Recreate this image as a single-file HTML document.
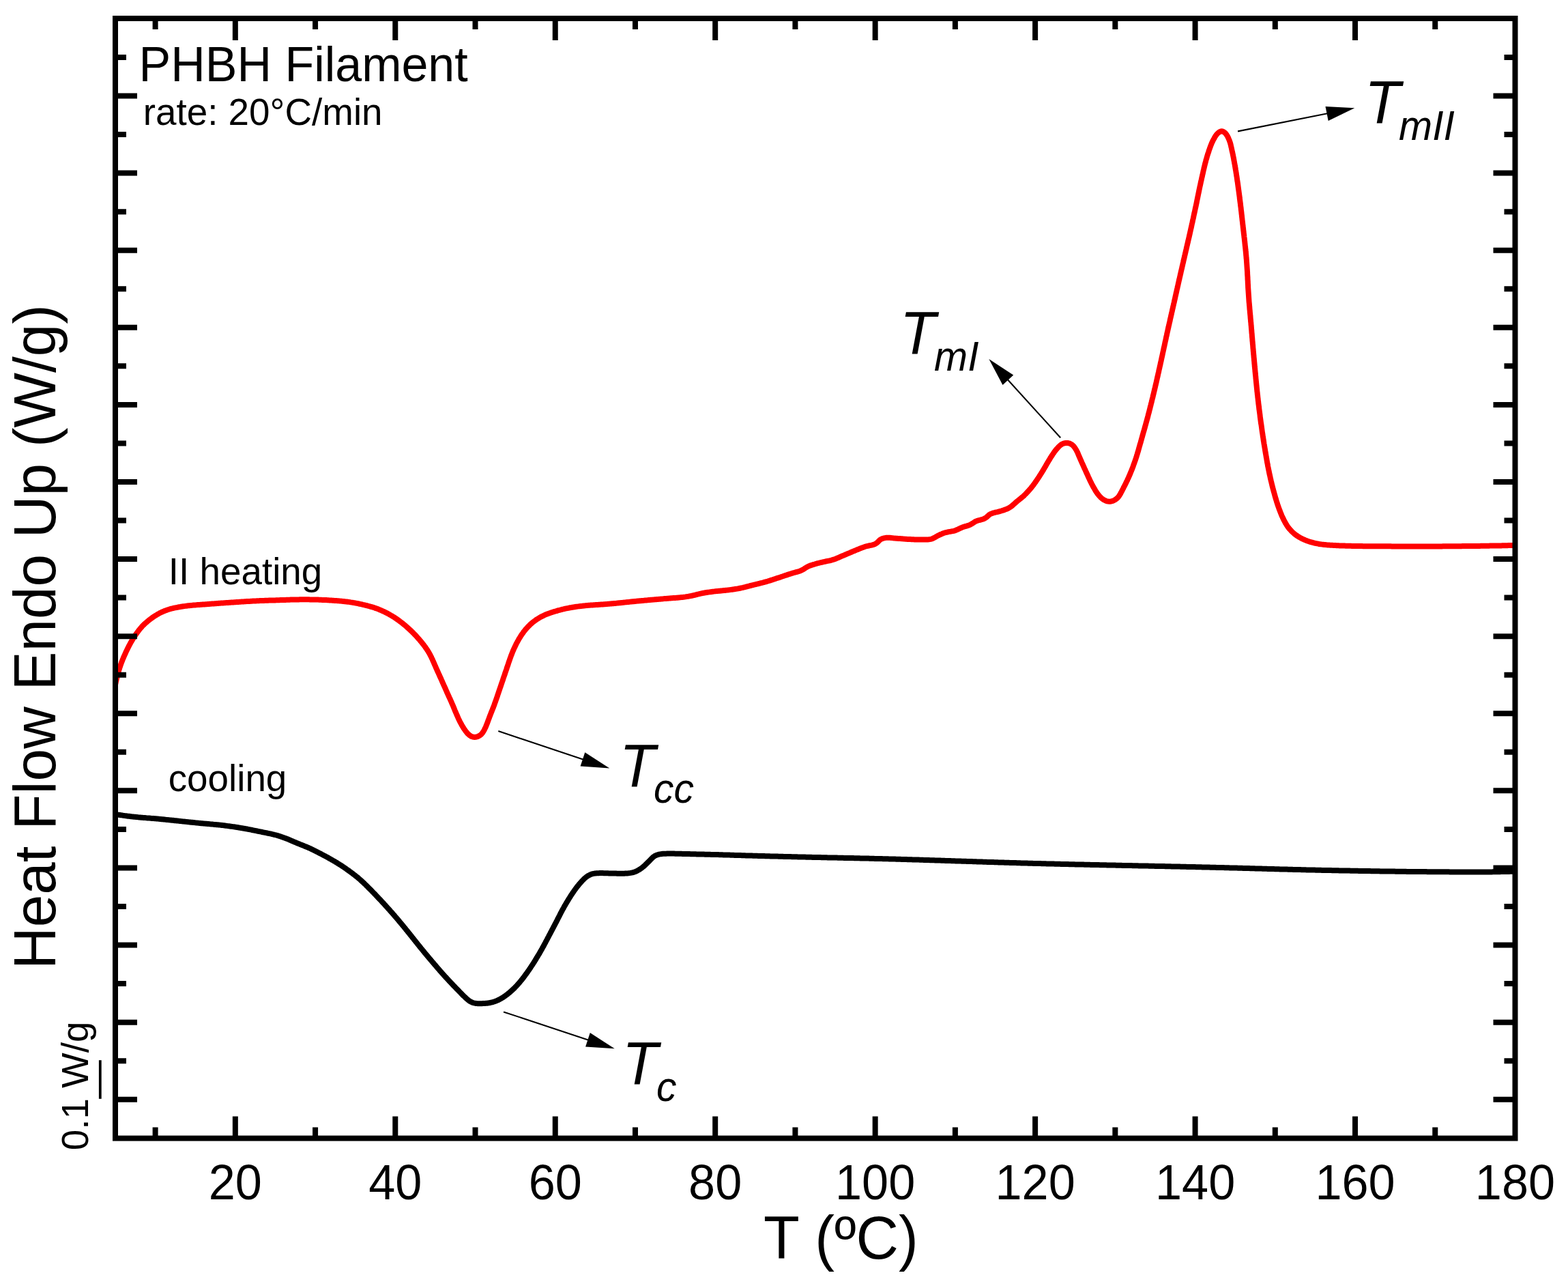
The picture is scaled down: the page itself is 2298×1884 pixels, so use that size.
<!DOCTYPE html>
<html lang="en"><head><meta charset="utf-8"><title>PHBH Filament DSC</title>
<style>html,body{margin:0;padding:0;background:#fff;overflow:hidden}svg{display:block}text{font-family:"Liberation Sans",sans-serif;fill:#000}.it{font-style:italic}</style>
</head><body>
<svg width="2298" height="1884" viewBox="0 0 2298 1884">
<rect width="2298" height="1884" fill="#fff"/>
<defs><clipPath id="plot"><rect x="169.0" y="27.0" width="2051.5" height="1640.6"/></clipPath></defs>
<g clip-path="url(#plot)" fill="none" stroke-width="8" stroke-linejoin="round" stroke-linecap="butt">
<path d="M164.0 1192.2L165.5 1192.4L167.0 1192.7L168.4 1192.9L169.9 1193.1L171.4 1193.3L172.9 1193.6L174.4 1193.8L175.9 1194.0L177.3 1194.2L178.8 1194.4L180.3 1194.7L181.8 1194.9L183.3 1195.1L184.8 1195.3L186.3 1195.5L187.7 1195.7L189.2 1195.8L190.7 1196.0L192.2 1196.2L193.7 1196.4L195.2 1196.5L196.7 1196.7L198.2 1196.8L199.7 1197.0L201.2 1197.1L202.7 1197.3L204.2 1197.4L205.6 1197.5L207.1 1197.7L208.6 1197.8L210.1 1197.9L211.6 1198.0L213.1 1198.1L214.6 1198.3L216.1 1198.4L217.6 1198.5L219.1 1198.6L220.6 1198.7L222.1 1198.9L223.6 1199.0L225.1 1199.1L226.6 1199.2L228.1 1199.3L229.6 1199.5L231.1 1199.6L232.6 1199.7L234.0 1199.9L235.5 1200.0L237.0 1200.2L238.5 1200.3L240.0 1200.5L241.5 1200.6L243.0 1200.8L244.5 1200.9L246.0 1201.1L247.5 1201.2L249.0 1201.4L250.5 1201.5L252.0 1201.7L253.5 1201.8L254.9 1202.0L256.4 1202.2L257.9 1202.3L259.4 1202.5L260.9 1202.6L262.4 1202.8L263.9 1202.9L265.4 1203.1L266.9 1203.3L268.4 1203.4L269.9 1203.6L271.3 1203.7L272.8 1203.9L274.3 1204.1L275.8 1204.2L277.3 1204.4L278.8 1204.5L280.3 1204.7L281.8 1204.8L283.3 1205.0L284.8 1205.1L286.3 1205.3L287.8 1205.4L289.3 1205.6L290.7 1205.7L292.2 1205.9L293.7 1206.0L295.2 1206.2L296.7 1206.3L298.2 1206.4L299.7 1206.6L301.2 1206.7L302.7 1206.8L304.2 1207.0L305.7 1207.1L307.2 1207.2L308.7 1207.4L310.2 1207.5L311.7 1207.6L313.2 1207.8L314.6 1207.9L316.1 1208.0L317.6 1208.2L319.1 1208.3L320.6 1208.5L322.1 1208.6L323.6 1208.8L325.1 1209.0L326.6 1209.1L328.1 1209.3L329.6 1209.5L331.1 1209.7L332.5 1209.9L334.0 1210.1L335.5 1210.3L337.0 1210.5L338.5 1210.7L340.0 1210.9L341.5 1211.1L342.9 1211.3L344.4 1211.5L345.9 1211.8L347.4 1212.0L348.9 1212.2L350.3 1212.5L351.8 1212.7L353.3 1213.0L354.8 1213.2L356.3 1213.5L357.7 1213.7L359.2 1214.0L360.7 1214.3L362.2 1214.5L363.6 1214.8L365.1 1215.1L366.6 1215.4L368.1 1215.7L369.5 1216.0L371.0 1216.3L372.5 1216.6L373.9 1216.9L375.4 1217.2L376.9 1217.5L378.3 1217.8L379.8 1218.1L381.3 1218.4L382.8 1218.7L384.2 1219.0L385.7 1219.3L387.2 1219.6L388.6 1219.9L390.1 1220.2L391.6 1220.5L393.0 1220.8L394.5 1221.1L396.0 1221.4L397.4 1221.7L398.9 1222.1L400.4 1222.4L401.8 1222.8L403.3 1223.1L404.7 1223.5L406.2 1223.9L407.6 1224.3L409.0 1224.8L410.5 1225.2L411.9 1225.7L413.3 1226.2L414.7 1226.7L416.1 1227.2L417.5 1227.7L418.9 1228.2L420.3 1228.8L421.7 1229.3L423.1 1229.9L424.5 1230.5L425.9 1231.1L427.2 1231.7L428.6 1232.3L430.0 1232.9L431.4 1233.5L432.8 1234.1L434.1 1234.6L435.5 1235.2L436.9 1235.8L438.3 1236.3L439.7 1236.9L441.1 1237.4L442.5 1238.0L443.9 1238.6L445.3 1239.1L446.7 1239.7L448.0 1240.2L449.4 1240.8L450.8 1241.4L452.2 1242.0L453.6 1242.6L454.9 1243.2L456.3 1243.9L457.6 1244.5L459.0 1245.2L460.3 1245.8L461.7 1246.5L463.0 1247.2L464.3 1247.8L465.7 1248.5L467.0 1249.2L468.3 1249.9L469.7 1250.6L471.0 1251.3L472.3 1252.0L473.7 1252.7L475.0 1253.4L476.3 1254.1L477.6 1254.8L478.9 1255.5L480.3 1256.2L481.6 1257.0L482.9 1257.7L484.2 1258.4L485.5 1259.2L486.8 1259.9L488.1 1260.7L489.4 1261.4L490.7 1262.2L492.0 1263.0L493.3 1263.7L494.5 1264.5L495.8 1265.3L497.1 1266.1L498.3 1266.9L499.6 1267.7L500.9 1268.5L502.1 1269.4L503.4 1270.2L504.6 1271.0L505.8 1271.9L507.1 1272.7L508.3 1273.6L509.5 1274.5L510.8 1275.3L512.0 1276.2L513.2 1277.1L514.4 1278.0L515.6 1278.9L516.8 1279.8L518.0 1280.7L519.2 1281.6L520.4 1282.5L521.5 1283.5L522.7 1284.4L523.9 1285.3L525.0 1286.3L526.1 1287.3L527.3 1288.3L528.4 1289.2L529.5 1290.2L530.6 1291.3L531.7 1292.3L532.8 1293.3L533.9 1294.3L535.0 1295.4L536.1 1296.4L537.1 1297.5L538.2 1298.5L539.3 1299.6L540.3 1300.7L541.4 1301.7L542.4 1302.8L543.5 1303.8L544.5 1304.9L545.6 1306.0L546.6 1307.1L547.7 1308.1L548.7 1309.2L549.8 1310.3L550.8 1311.4L551.8 1312.5L552.9 1313.6L553.9 1314.7L554.9 1315.8L555.9 1316.8L557.0 1317.9L558.0 1319.0L559.0 1320.1L560.0 1321.2L561.0 1322.3L562.1 1323.4L563.1 1324.5L564.1 1325.7L565.1 1326.8L566.1 1327.9L567.1 1329.0L568.1 1330.1L569.1 1331.2L570.1 1332.3L571.1 1333.4L572.1 1334.6L573.1 1335.7L574.1 1336.8L575.1 1337.9L576.1 1339.1L577.1 1340.2L578.1 1341.3L579.0 1342.5L580.0 1343.6L581.0 1344.7L582.0 1345.9L582.9 1347.0L583.9 1348.2L584.9 1349.3L585.8 1350.5L586.8 1351.6L587.7 1352.8L588.7 1353.9L589.6 1355.1L590.6 1356.3L591.6 1357.4L592.5 1358.6L593.5 1359.7L594.4 1360.9L595.3 1362.1L596.3 1363.2L597.2 1364.4L598.2 1365.6L599.1 1366.7L600.1 1367.9L601.0 1369.1L601.9 1370.2L602.9 1371.4L603.8 1372.6L604.7 1373.8L605.7 1374.9L606.6 1376.1L607.5 1377.3L608.5 1378.5L609.4 1379.6L610.3 1380.8L611.3 1382.0L612.2 1383.2L613.1 1384.3L614.1 1385.5L615.0 1386.7L616.0 1387.8L616.9 1389.0L617.9 1390.2L618.8 1391.3L619.8 1392.5L620.7 1393.6L621.7 1394.8L622.6 1396.0L623.6 1397.1L624.5 1398.3L625.5 1399.4L626.5 1400.6L627.4 1401.7L628.4 1402.9L629.3 1404.0L630.3 1405.2L631.3 1406.3L632.3 1407.5L633.2 1408.6L634.2 1409.7L635.2 1410.9L636.1 1412.0L637.1 1413.2L638.1 1414.3L639.1 1415.4L640.0 1416.6L641.0 1417.7L642.0 1418.9L643.0 1420.0L644.0 1421.1L644.9 1422.3L645.9 1423.4L646.9 1424.5L647.9 1425.6L648.9 1426.8L649.9 1427.9L650.9 1429.0L651.9 1430.1L652.9 1431.2L653.9 1432.3L654.9 1433.4L656.0 1434.5L657.0 1435.6L658.0 1436.7L659.0 1437.8L660.1 1438.9L661.1 1440.0L662.1 1441.1L663.2 1442.2L664.2 1443.3L665.2 1444.3L666.3 1445.4L667.3 1446.5L668.4 1447.6L669.4 1448.7L670.5 1449.7L671.5 1450.8L672.5 1451.9L673.6 1453.0L674.6 1454.0L675.7 1455.1L676.7 1456.2L677.8 1457.3L678.8 1458.3L679.9 1459.4L681.0 1460.4L682.1 1461.5L683.2 1462.5L684.3 1463.5L685.4 1464.4L686.6 1465.4L687.8 1466.3L689.0 1467.1L690.3 1467.8L691.7 1468.4L693.0 1469.0L694.5 1469.4L695.9 1469.7L697.4 1470.0L698.9 1470.1L700.4 1470.3L701.9 1470.3L703.4 1470.3L704.9 1470.3L706.3 1470.2L707.8 1470.1L709.3 1470.0L710.8 1469.9L712.3 1469.8L713.8 1469.7L715.3 1469.5L716.8 1469.3L718.3 1469.0L719.7 1468.7L721.2 1468.4L722.6 1467.9L724.1 1467.5L725.5 1467.0L726.9 1466.5L728.3 1465.9L729.6 1465.3L731.0 1464.7L732.3 1464.0L733.6 1463.3L734.9 1462.5L736.2 1461.8L737.5 1461.0L738.7 1460.2L740.0 1459.3L741.2 1458.4L742.4 1457.5L743.6 1456.6L744.7 1455.7L745.9 1454.7L747.1 1453.8L748.2 1452.8L749.3 1451.8L750.4 1450.8L751.5 1449.8L752.6 1448.7L753.7 1447.7L754.7 1446.6L755.8 1445.5L756.8 1444.5L757.8 1443.4L758.8 1442.2L759.8 1441.1L760.8 1440.0L761.8 1438.9L762.7 1437.7L763.7 1436.5L764.6 1435.4L765.6 1434.2L766.5 1433.0L767.4 1431.8L768.3 1430.6L769.2 1429.4L770.1 1428.2L771.0 1427.0L771.8 1425.8L772.7 1424.6L773.6 1423.3L774.4 1422.1L775.3 1420.9L776.1 1419.6L777.0 1418.4L777.8 1417.1L778.6 1415.9L779.4 1414.6L780.3 1413.4L781.1 1412.1L781.9 1410.9L782.7 1409.6L783.5 1408.3L784.3 1407.0L785.1 1405.8L785.8 1404.5L786.6 1403.2L787.4 1401.9L788.2 1400.6L788.9 1399.3L789.7 1398.1L790.5 1396.8L791.2 1395.5L792.0 1394.2L792.7 1392.9L793.4 1391.6L794.2 1390.3L794.9 1388.9L795.6 1387.6L796.4 1386.3L797.1 1385.0L797.8 1383.7L798.5 1382.4L799.2 1381.1L799.9 1379.7L800.6 1378.4L801.3 1377.1L802.0 1375.8L802.7 1374.4L803.4 1373.1L804.1 1371.8L804.8 1370.4L805.5 1369.1L806.2 1367.8L806.9 1366.5L807.6 1365.1L808.3 1363.8L809.0 1362.5L809.7 1361.1L810.4 1359.8L811.1 1358.5L811.8 1357.2L812.5 1355.8L813.2 1354.5L813.9 1353.2L814.6 1351.8L815.3 1350.5L816.0 1349.2L816.7 1347.8L817.3 1346.5L818.0 1345.2L818.7 1343.8L819.4 1342.5L820.1 1341.2L820.7 1339.8L821.4 1338.5L822.1 1337.2L822.8 1335.8L823.5 1334.5L824.2 1333.2L824.9 1331.9L825.7 1330.6L826.4 1329.2L827.1 1327.9L827.9 1326.6L828.6 1325.3L829.4 1324.0L830.1 1322.7L830.9 1321.5L831.7 1320.2L832.5 1318.9L833.2 1317.6L834.0 1316.3L834.8 1315.1L835.6 1313.8L836.4 1312.5L837.2 1311.3L838.1 1310.0L838.9 1308.8L839.7 1307.5L840.6 1306.3L841.4 1305.1L842.3 1303.8L843.2 1302.6L844.1 1301.4L845.0 1300.2L845.9 1299.0L846.8 1297.9L847.8 1296.7L848.7 1295.5L849.7 1294.4L850.7 1293.2L851.7 1292.1L852.7 1291.0L853.7 1289.9L854.8 1288.9L855.8 1287.8L856.9 1286.8L858.1 1285.8L859.2 1284.9L860.4 1284.0L861.7 1283.1L863.0 1282.4L864.3 1281.7L865.7 1281.1L867.1 1280.6L868.5 1280.2L870.0 1279.9L871.4 1279.6L872.9 1279.5L874.4 1279.3L875.9 1279.2L877.4 1279.2L878.9 1279.1L880.4 1279.1L881.9 1279.1L883.4 1279.1L884.9 1279.2L886.4 1279.2L887.9 1279.3L889.4 1279.3L890.9 1279.3L892.4 1279.4L893.9 1279.4L895.4 1279.4L896.9 1279.5L898.4 1279.5L899.9 1279.6L901.4 1279.6L902.9 1279.6L904.4 1279.7L905.9 1279.7L907.4 1279.7L908.9 1279.7L910.4 1279.7L911.9 1279.7L913.4 1279.7L914.9 1279.7L916.4 1279.6L917.9 1279.6L919.4 1279.4L920.9 1279.3L922.4 1279.1L923.9 1278.9L925.3 1278.6L926.8 1278.3L928.3 1278.0L929.7 1277.5L931.1 1277.0L932.5 1276.4L933.8 1275.7L935.1 1275.0L936.4 1274.3L937.7 1273.5L938.9 1272.6L940.2 1271.8L941.4 1270.9L942.5 1269.9L943.7 1269.0L944.8 1268.0L945.9 1266.9L946.9 1265.9L948.0 1264.8L949.1 1263.8L950.1 1262.7L951.2 1261.7L952.3 1260.6L953.3 1259.5L954.4 1258.4L955.4 1257.4L956.5 1256.3L957.6 1255.3L958.8 1254.5L960.1 1253.7L961.4 1253.1L962.8 1252.5L964.3 1252.1L965.7 1251.7L967.2 1251.4L968.6 1251.2L970.1 1251.0L971.6 1250.8L973.1 1250.7L974.6 1250.7L976.1 1250.7L977.6 1250.6L979.1 1250.6L980.6 1250.6L982.1 1250.6L983.6 1250.6L985.1 1250.6L986.6 1250.6L988.1 1250.6L989.6 1250.7L991.1 1250.7L992.6 1250.7L994.1 1250.7L995.6 1250.8L997.1 1250.8L998.6 1250.8L1000.1 1250.9L1001.6 1250.9L1003.1 1251.0L1004.6 1251.0L1006.1 1251.0L1007.6 1251.1L1009.1 1251.1L1010.6 1251.1L1012.1 1251.2L1013.6 1251.2L1015.1 1251.2L1016.6 1251.3L1018.1 1251.3L1019.6 1251.3L1021.1 1251.4L1022.6 1251.4L1024.1 1251.4L1025.6 1251.5L1027.1 1251.5L1028.6 1251.5L1030.1 1251.6L1031.6 1251.6L1033.1 1251.7L1034.6 1251.7L1036.1 1251.7L1037.6 1251.8L1039.1 1251.8L1040.6 1251.8L1042.1 1251.9L1043.6 1251.9L1045.1 1251.9L1046.6 1252.0L1048.1 1252.0L1049.6 1252.1L1051.1 1252.1L1052.6 1252.1L1054.1 1252.2L1055.6 1252.2L1057.1 1252.3L1058.6 1252.3L1060.1 1252.4L1061.6 1252.4L1063.1 1252.4L1064.6 1252.5L1066.1 1252.5L1067.6 1252.6L1069.1 1252.6L1070.6 1252.7L1072.1 1252.7L1073.6 1252.8L1075.1 1252.8L1076.6 1252.9L1078.1 1252.9L1079.6 1252.9L1081.1 1253.0L1082.6 1253.0L1084.1 1253.1L1085.6 1253.1L1087.1 1253.2L1088.6 1253.2L1090.1 1253.3L1091.6 1253.3L1093.1 1253.4L1094.6 1253.4L1096.1 1253.5L1097.6 1253.5L1099.1 1253.5L1100.6 1253.6L1102.1 1253.6L1103.6 1253.7L1105.1 1253.7L1106.6 1253.8L1108.1 1253.8L1109.6 1253.8L1111.1 1253.9L1112.6 1253.9L1114.1 1254.0L1115.6 1254.0L1117.1 1254.1L1118.6 1254.1L1120.1 1254.1L1121.6 1254.2L1123.1 1254.2L1124.6 1254.3L1126.1 1254.3L1127.6 1254.3L1129.1 1254.4L1130.6 1254.4L1132.1 1254.5L1133.6 1254.5L1135.1 1254.5L1136.6 1254.6L1138.1 1254.6L1139.6 1254.6L1141.1 1254.7L1142.6 1254.7L1144.1 1254.8L1145.6 1254.8L1147.1 1254.8L1148.6 1254.9L1150.1 1254.9L1151.6 1254.9L1153.1 1255.0L1154.6 1255.0L1156.0 1255.0L1157.5 1255.1L1159.0 1255.1L1160.5 1255.2L1162.0 1255.2L1163.5 1255.2L1165.0 1255.3L1166.5 1255.3L1168.0 1255.3L1169.5 1255.4L1171.0 1255.4L1172.5 1255.4L1174.0 1255.5L1175.5 1255.5L1177.0 1255.6L1178.5 1255.6L1180.0 1255.6L1181.5 1255.7L1183.0 1255.7L1184.5 1255.7L1186.0 1255.8L1187.5 1255.8L1189.0 1255.8L1190.5 1255.9L1192.0 1255.9L1193.5 1255.9L1195.0 1256.0L1196.5 1256.0L1198.0 1256.0L1199.5 1256.1L1201.0 1256.1L1202.5 1256.1L1204.0 1256.2L1205.5 1256.2L1207.0 1256.2L1208.5 1256.3L1210.0 1256.3L1211.5 1256.3L1213.0 1256.4L1214.5 1256.4L1216.0 1256.4L1217.5 1256.5L1219.0 1256.5L1220.5 1256.5L1222.0 1256.5L1223.5 1256.6L1225.0 1256.6L1226.5 1256.6L1228.0 1256.7L1229.5 1256.7L1231.0 1256.7L1232.5 1256.8L1234.0 1256.8L1235.5 1256.8L1237.0 1256.9L1238.5 1256.9L1240.0 1256.9L1241.5 1256.9L1243.0 1257.0L1244.5 1257.0L1246.0 1257.0L1247.5 1257.1L1249.0 1257.1L1250.5 1257.1L1252.0 1257.2L1253.5 1257.2L1255.0 1257.2L1256.5 1257.3L1258.0 1257.3L1259.5 1257.3L1261.0 1257.4L1262.5 1257.4L1264.0 1257.4L1265.5 1257.5L1267.0 1257.5L1268.5 1257.5L1270.0 1257.6L1271.5 1257.6L1273.0 1257.6L1274.5 1257.7L1276.0 1257.7L1277.5 1257.7L1279.0 1257.8L1280.5 1257.8L1282.0 1257.9L1283.5 1257.9L1285.0 1257.9L1286.5 1258.0L1288.0 1258.0L1289.5 1258.0L1291.0 1258.1L1292.5 1258.1L1294.0 1258.2L1295.5 1258.2L1297.0 1258.2L1298.5 1258.3L1300.0 1258.3L1301.5 1258.3L1303.0 1258.4L1304.5 1258.4L1306.0 1258.5L1307.5 1258.5L1309.0 1258.6L1310.5 1258.6L1312.0 1258.6L1313.5 1258.7L1315.0 1258.7L1316.5 1258.8L1318.0 1258.8L1319.5 1258.8L1321.0 1258.9L1322.5 1258.9L1324.0 1259.0L1325.5 1259.0L1327.0 1259.1L1328.5 1259.1L1330.0 1259.2L1331.5 1259.2L1333.0 1259.2L1334.5 1259.3L1336.0 1259.3L1337.5 1259.4L1339.0 1259.4L1340.5 1259.5L1342.0 1259.5L1343.5 1259.6L1345.0 1259.6L1346.5 1259.6L1348.0 1259.7L1349.5 1259.7L1351.0 1259.8L1352.5 1259.8L1354.0 1259.9L1355.5 1259.9L1357.0 1260.0L1358.5 1260.0L1360.0 1260.1L1361.5 1260.1L1363.0 1260.2L1364.5 1260.2L1366.0 1260.3L1367.5 1260.3L1369.0 1260.3L1370.5 1260.4L1372.0 1260.4L1373.5 1260.5L1375.0 1260.5L1376.5 1260.6L1378.0 1260.6L1379.5 1260.7L1381.0 1260.7L1382.5 1260.8L1384.0 1260.8L1385.5 1260.9L1387.0 1260.9L1388.5 1261.0L1390.0 1261.0L1391.5 1261.1L1393.0 1261.1L1394.5 1261.2L1396.0 1261.2L1397.5 1261.3L1399.0 1261.3L1400.5 1261.4L1402.0 1261.4L1403.5 1261.5L1405.0 1261.5L1406.5 1261.6L1408.0 1261.6L1409.5 1261.7L1411.0 1261.7L1412.5 1261.8L1414.0 1261.8L1415.5 1261.8L1417.0 1261.9L1418.5 1261.9L1420.0 1262.0L1421.5 1262.0L1423.0 1262.1L1424.5 1262.1L1426.0 1262.2L1427.5 1262.2L1429.0 1262.3L1430.5 1262.3L1431.9 1262.4L1433.4 1262.4L1434.9 1262.5L1436.4 1262.5L1437.9 1262.6L1439.4 1262.6L1440.9 1262.7L1442.4 1262.7L1443.9 1262.8L1445.4 1262.8L1446.9 1262.9L1448.4 1262.9L1449.9 1263.0L1451.4 1263.0L1452.9 1263.0L1454.4 1263.1L1455.9 1263.1L1457.4 1263.2L1458.9 1263.2L1460.4 1263.3L1461.9 1263.3L1463.4 1263.4L1464.9 1263.4L1466.4 1263.5L1467.9 1263.5L1469.4 1263.6L1470.9 1263.6L1472.4 1263.7L1473.9 1263.7L1475.4 1263.7L1476.9 1263.8L1478.4 1263.8L1479.9 1263.9L1481.4 1263.9L1482.9 1264.0L1484.4 1264.0L1485.9 1264.1L1487.4 1264.1L1488.9 1264.1L1490.4 1264.2L1491.9 1264.2L1493.4 1264.3L1494.9 1264.3L1496.4 1264.4L1497.9 1264.4L1499.4 1264.4L1500.9 1264.5L1502.4 1264.5L1503.9 1264.6L1505.4 1264.6L1506.9 1264.7L1508.4 1264.7L1509.9 1264.7L1511.4 1264.8L1512.9 1264.8L1514.4 1264.9L1515.9 1264.9L1517.4 1264.9L1518.9 1265.0L1520.4 1265.0L1521.9 1265.1L1523.4 1265.1L1524.9 1265.1L1526.4 1265.2L1527.9 1265.2L1529.4 1265.2L1530.9 1265.3L1532.4 1265.3L1533.9 1265.4L1535.4 1265.4L1536.9 1265.4L1538.4 1265.5L1539.9 1265.5L1541.4 1265.5L1542.9 1265.6L1544.4 1265.6L1545.9 1265.7L1547.4 1265.7L1548.9 1265.7L1550.4 1265.8L1551.9 1265.8L1553.4 1265.8L1554.9 1265.9L1556.4 1265.9L1557.9 1265.9L1559.4 1266.0L1560.9 1266.0L1562.4 1266.0L1563.9 1266.1L1565.4 1266.1L1566.9 1266.2L1568.4 1266.2L1569.9 1266.2L1571.4 1266.3L1572.9 1266.3L1574.4 1266.3L1575.9 1266.4L1577.4 1266.4L1578.9 1266.4L1580.4 1266.5L1581.9 1266.5L1583.4 1266.5L1584.9 1266.6L1586.4 1266.6L1587.9 1266.6L1589.4 1266.7L1590.9 1266.7L1592.4 1266.7L1593.9 1266.8L1595.4 1266.8L1596.9 1266.8L1598.4 1266.9L1599.9 1266.9L1601.4 1266.9L1602.9 1267.0L1604.4 1267.0L1605.9 1267.0L1607.4 1267.1L1608.9 1267.1L1610.4 1267.1L1611.9 1267.2L1613.4 1267.2L1614.9 1267.2L1616.4 1267.3L1617.9 1267.3L1619.4 1267.3L1620.9 1267.3L1622.4 1267.4L1623.9 1267.4L1625.4 1267.4L1626.9 1267.5L1628.4 1267.5L1629.9 1267.5L1631.4 1267.6L1632.9 1267.6L1634.4 1267.6L1635.9 1267.7L1637.4 1267.7L1638.9 1267.7L1640.4 1267.8L1641.9 1267.8L1643.4 1267.8L1644.9 1267.9L1646.4 1267.9L1647.9 1267.9L1649.4 1267.9L1650.9 1268.0L1652.4 1268.0L1653.9 1268.0L1655.4 1268.1L1656.9 1268.1L1658.4 1268.1L1659.9 1268.2L1661.4 1268.2L1662.9 1268.2L1664.4 1268.3L1665.9 1268.3L1667.4 1268.3L1668.9 1268.4L1670.4 1268.4L1671.9 1268.4L1673.4 1268.4L1674.9 1268.5L1676.4 1268.5L1677.9 1268.5L1679.4 1268.6L1680.9 1268.6L1682.4 1268.6L1683.9 1268.7L1685.4 1268.7L1686.9 1268.7L1688.4 1268.8L1689.9 1268.8L1691.4 1268.8L1692.9 1268.9L1694.4 1268.9L1695.9 1268.9L1697.4 1269.0L1698.9 1269.0L1700.4 1269.0L1701.9 1269.0L1703.4 1269.1L1704.9 1269.1L1706.4 1269.1L1707.9 1269.2L1709.4 1269.2L1710.9 1269.2L1712.4 1269.3L1713.9 1269.3L1715.4 1269.3L1716.9 1269.4L1718.4 1269.4L1719.9 1269.4L1721.4 1269.5L1722.9 1269.5L1724.4 1269.5L1725.9 1269.6L1727.4 1269.6L1728.9 1269.6L1730.4 1269.7L1731.9 1269.7L1733.4 1269.7L1734.9 1269.8L1736.4 1269.8L1737.9 1269.8L1739.4 1269.9L1740.9 1269.9L1742.4 1269.9L1743.9 1270.0L1745.4 1270.0L1746.9 1270.0L1748.4 1270.1L1749.9 1270.1L1751.4 1270.1L1752.9 1270.2L1754.4 1270.2L1755.9 1270.2L1757.4 1270.3L1758.9 1270.3L1760.4 1270.3L1761.9 1270.4L1763.4 1270.4L1764.8 1270.4L1766.3 1270.5L1767.8 1270.5L1769.3 1270.5L1770.8 1270.6L1772.3 1270.6L1773.8 1270.7L1775.3 1270.7L1776.8 1270.7L1778.3 1270.8L1779.8 1270.8L1781.3 1270.8L1782.8 1270.9L1784.3 1270.9L1785.8 1270.9L1787.3 1271.0L1788.8 1271.0L1790.3 1271.1L1791.8 1271.1L1793.3 1271.1L1794.8 1271.2L1796.3 1271.2L1797.8 1271.2L1799.3 1271.3L1800.8 1271.3L1802.3 1271.4L1803.8 1271.4L1805.3 1271.4L1806.8 1271.5L1808.3 1271.5L1809.8 1271.6L1811.3 1271.6L1812.8 1271.6L1814.3 1271.7L1815.8 1271.7L1817.3 1271.8L1818.8 1271.8L1820.3 1271.8L1821.8 1271.9L1823.3 1271.9L1824.8 1272.0L1826.3 1272.0L1827.8 1272.0L1829.3 1272.1L1830.8 1272.1L1832.3 1272.2L1833.8 1272.2L1835.3 1272.3L1836.8 1272.3L1838.3 1272.3L1839.8 1272.4L1841.3 1272.4L1842.8 1272.5L1844.3 1272.5L1845.8 1272.5L1847.3 1272.6L1848.8 1272.6L1850.3 1272.7L1851.8 1272.7L1853.3 1272.8L1854.8 1272.8L1856.3 1272.8L1857.8 1272.9L1859.3 1272.9L1860.8 1273.0L1862.3 1273.0L1863.8 1273.0L1865.3 1273.1L1866.8 1273.1L1868.3 1273.2L1869.8 1273.2L1871.3 1273.2L1872.8 1273.3L1874.3 1273.3L1875.8 1273.4L1877.3 1273.4L1878.8 1273.4L1880.3 1273.5L1881.8 1273.5L1883.3 1273.6L1884.8 1273.6L1886.3 1273.6L1887.8 1273.7L1889.3 1273.7L1890.8 1273.8L1892.3 1273.8L1893.8 1273.8L1895.3 1273.9L1896.8 1273.9L1898.3 1274.0L1899.8 1274.0L1901.3 1274.0L1902.8 1274.1L1904.3 1274.1L1905.8 1274.1L1907.3 1274.2L1908.8 1274.2L1910.3 1274.3L1911.8 1274.3L1913.3 1274.3L1914.8 1274.4L1916.3 1274.4L1917.8 1274.4L1919.3 1274.5L1920.8 1274.5L1922.3 1274.5L1923.8 1274.6L1925.3 1274.6L1926.8 1274.6L1928.3 1274.7L1929.8 1274.7L1931.3 1274.7L1932.8 1274.8L1934.3 1274.8L1935.8 1274.8L1937.3 1274.9L1938.8 1274.9L1940.3 1274.9L1941.8 1275.0L1943.3 1275.0L1944.8 1275.0L1946.3 1275.0L1947.8 1275.1L1949.3 1275.1L1950.8 1275.1L1952.3 1275.2L1953.8 1275.2L1955.3 1275.2L1956.8 1275.2L1958.3 1275.3L1959.8 1275.3L1961.3 1275.3L1962.8 1275.4L1964.3 1275.4L1965.8 1275.4L1967.3 1275.4L1968.8 1275.5L1970.3 1275.5L1971.8 1275.5L1973.3 1275.6L1974.8 1275.6L1976.3 1275.6L1977.8 1275.6L1979.3 1275.7L1980.8 1275.7L1982.3 1275.7L1983.8 1275.7L1985.3 1275.8L1986.8 1275.8L1988.3 1275.8L1989.8 1275.8L1991.3 1275.9L1992.8 1275.9L1994.3 1275.9L1995.8 1275.9L1997.3 1276.0L1998.8 1276.0L2000.3 1276.0L2001.8 1276.0L2003.3 1276.1L2004.8 1276.1L2006.3 1276.1L2007.8 1276.1L2009.3 1276.2L2010.8 1276.2L2012.3 1276.2L2013.8 1276.2L2015.3 1276.3L2016.8 1276.3L2018.3 1276.3L2019.8 1276.3L2021.3 1276.3L2022.8 1276.4L2024.3 1276.4L2025.8 1276.4L2027.3 1276.4L2028.8 1276.4L2030.3 1276.5L2031.8 1276.5L2033.3 1276.5L2034.8 1276.5L2036.3 1276.6L2037.8 1276.6L2039.3 1276.6L2040.8 1276.6L2042.3 1276.6L2043.8 1276.6L2045.3 1276.7L2046.8 1276.7L2048.3 1276.7L2049.8 1276.7L2051.3 1276.7L2052.8 1276.8L2054.3 1276.8L2055.8 1276.8L2057.3 1276.8L2058.8 1276.8L2060.3 1276.8L2061.8 1276.9L2063.3 1276.9L2064.8 1276.9L2066.3 1276.9L2067.8 1276.9L2069.3 1276.9L2070.8 1277.0L2072.3 1277.0L2073.8 1277.0L2075.3 1277.0L2076.8 1277.0L2078.3 1277.0L2079.8 1277.0L2081.3 1277.1L2082.8 1277.1L2084.3 1277.1L2085.8 1277.1L2087.3 1277.1L2088.8 1277.1L2090.3 1277.1L2091.8 1277.2L2093.3 1277.2L2094.8 1277.2L2096.3 1277.2L2097.8 1277.2L2099.3 1277.2L2100.8 1277.2L2102.3 1277.2L2103.8 1277.2L2105.3 1277.3L2106.8 1277.3L2108.3 1277.3L2109.8 1277.3L2111.3 1277.3L2112.8 1277.3L2114.3 1277.3L2115.8 1277.3L2117.3 1277.3L2118.8 1277.3L2120.3 1277.3L2121.8 1277.3L2123.3 1277.3L2124.8 1277.4L2126.3 1277.4L2127.8 1277.4L2129.3 1277.4L2130.8 1277.4L2132.3 1277.4L2133.8 1277.4L2135.3 1277.4L2136.8 1277.4L2138.3 1277.4L2139.8 1277.4L2141.3 1277.4L2142.8 1277.4L2144.3 1277.4L2145.8 1277.4L2147.3 1277.4L2148.8 1277.4L2150.3 1277.4L2151.8 1277.5L2153.3 1277.5L2154.8 1277.5L2156.3 1277.5L2157.8 1277.5L2159.3 1277.5L2160.8 1277.5L2162.3 1277.5L2163.8 1277.5L2165.3 1277.5L2166.8 1277.5L2168.3 1277.5L2169.8 1277.5L2171.3 1277.5L2172.8 1277.5L2174.3 1277.5L2175.8 1277.5L2177.3 1277.5L2178.8 1277.4L2180.3 1277.4L2181.8 1277.4L2183.3 1277.4L2184.8 1277.4L2186.3 1277.4L2187.8 1277.3L2189.3 1277.3L2190.8 1277.3L2192.3 1277.3L2193.8 1277.2L2195.3 1277.2L2196.8 1277.2L2198.3 1277.2L2199.8 1277.1L2201.3 1277.1L2202.8 1277.1L2204.3 1277.0L2205.8 1277.0L2207.3 1277.0L2208.8 1276.9L2210.3 1276.9L2211.8 1276.9L2213.3 1276.8L2214.8 1276.8L2216.3 1276.7L2217.8 1276.7L2219.3 1276.7L2220.8 1276.6L2222.3 1276.6L2223.8 1276.6L2225.3 1276.5L2225.8 1276.5" stroke="#000"/>
<path d="M166.0 1016.0L166.3 1014.5L166.7 1013.1L167.0 1011.6L167.3 1010.2L167.7 1008.7L168.0 1007.2L168.4 1005.8L168.7 1004.3L169.0 1002.8L169.4 1001.4L169.7 999.9L170.0 998.5L170.4 997.0L170.7 995.5L171.0 994.1L171.4 992.6L171.7 991.2L172.1 989.7L172.5 988.2L172.9 986.8L173.3 985.4L173.7 983.9L174.1 982.5L174.5 981.0L175.0 979.6L175.4 978.2L175.9 976.8L176.4 975.3L176.9 973.9L177.4 972.5L177.9 971.1L178.4 969.7L179.0 968.3L179.5 966.9L180.1 965.5L180.7 964.1L181.3 962.7L181.8 961.4L182.5 960.0L183.1 958.6L183.7 957.3L184.3 955.9L184.9 954.5L185.6 953.2L186.2 951.8L186.9 950.5L187.6 949.1L188.2 947.8L188.9 946.5L189.6 945.1L190.3 943.8L191.0 942.5L191.8 941.2L192.5 939.9L193.3 938.6L194.0 937.3L194.8 936.0L195.6 934.8L196.4 933.5L197.2 932.2L198.1 931.0L198.9 929.7L199.8 928.5L200.6 927.3L201.5 926.1L202.4 924.9L203.3 923.7L204.2 922.5L205.2 921.3L206.1 920.2L207.1 919.1L208.1 917.9L209.1 916.8L210.2 915.8L211.3 914.7L212.3 913.7L213.4 912.7L214.6 911.7L215.7 910.7L216.9 909.7L218.0 908.8L219.2 907.9L220.4 907.0L221.6 906.1L222.8 905.2L224.0 904.3L225.3 903.5L226.5 902.7L227.8 901.9L229.1 901.1L230.4 900.3L231.7 899.6L233.0 898.8L234.3 898.1L235.6 897.4L237.0 896.8L238.3 896.2L239.7 895.6L241.1 895.0L242.5 894.4L243.9 893.9L245.3 893.4L246.7 893.0L248.2 892.5L249.6 892.1L251.0 891.7L252.5 891.4L253.9 891.0L255.4 890.7L256.9 890.4L258.3 890.1L259.8 889.8L261.3 889.5L262.8 889.2L264.2 889.0L265.7 888.7L267.2 888.5L268.7 888.3L270.2 888.1L271.6 887.9L273.1 887.7L274.6 887.5L276.1 887.3L277.6 887.2L279.1 887.0L280.6 886.9L282.1 886.7L283.6 886.6L285.1 886.5L286.6 886.4L288.1 886.2L289.6 886.1L291.1 886.0L292.5 885.9L294.0 885.8L295.5 885.7L297.0 885.6L298.5 885.5L300.0 885.4L301.5 885.3L303.0 885.2L304.5 885.1L306.0 885.0L307.5 884.8L309.0 884.7L310.5 884.6L312.0 884.5L313.5 884.4L315.0 884.3L316.5 884.2L318.0 884.1L319.5 884.0L321.0 883.8L322.5 883.7L324.0 883.6L325.5 883.5L327.0 883.4L328.5 883.3L330.0 883.2L331.4 883.1L332.9 883.0L334.4 882.9L335.9 882.8L337.4 882.7L338.9 882.6L340.4 882.5L341.9 882.4L343.4 882.3L344.9 882.2L346.4 882.1L347.9 882.0L349.4 881.9L350.9 881.8L352.4 881.7L353.9 881.6L355.4 881.5L356.9 881.4L358.4 881.3L359.9 881.2L361.4 881.1L362.9 881.0L364.4 880.9L365.9 880.9L367.4 880.8L368.9 880.7L370.4 880.6L371.9 880.5L373.4 880.5L374.9 880.4L376.4 880.3L377.9 880.3L379.4 880.2L380.9 880.1L382.4 880.1L383.9 880.0L385.4 880.0L386.9 879.9L388.3 879.8L389.8 879.8L391.3 879.7L392.8 879.7L394.3 879.6L395.8 879.6L397.3 879.5L398.8 879.5L400.3 879.4L401.8 879.4L403.3 879.4L404.8 879.3L406.3 879.3L407.8 879.2L409.3 879.2L410.8 879.1L412.3 879.1L413.8 879.0L415.3 879.0L416.8 878.9L418.3 878.9L419.8 878.8L421.3 878.8L422.8 878.7L424.3 878.7L425.8 878.6L427.3 878.6L428.8 878.6L430.3 878.5L431.8 878.5L433.3 878.4L434.8 878.4L436.3 878.4L437.8 878.4L439.3 878.3L440.8 878.3L442.3 878.3L443.8 878.3L445.3 878.3L446.8 878.3L448.3 878.3L449.8 878.3L451.3 878.3L452.8 878.3L454.3 878.4L455.8 878.4L457.3 878.4L458.8 878.4L460.3 878.5L461.8 878.5L463.3 878.5L464.8 878.6L466.3 878.6L467.8 878.7L469.3 878.7L470.8 878.8L472.3 878.9L473.8 878.9L475.3 879.0L476.8 879.1L478.3 879.1L479.8 879.2L481.3 879.3L482.8 879.4L484.3 879.5L485.8 879.6L487.3 879.7L488.8 879.8L490.3 879.9L491.8 880.0L493.3 880.1L494.8 880.2L496.3 880.3L497.8 880.4L499.3 880.6L500.8 880.7L502.2 880.9L503.7 881.0L505.2 881.2L506.7 881.4L508.2 881.5L509.7 881.7L511.2 881.9L512.7 882.1L514.1 882.4L515.6 882.6L517.1 882.8L518.6 883.1L520.1 883.3L521.5 883.6L523.0 883.9L524.5 884.2L526.0 884.5L527.4 884.8L528.9 885.1L530.3 885.4L531.8 885.8L533.3 886.1L534.7 886.5L536.2 886.8L537.6 887.2L539.1 887.6L540.5 888.0L542.0 888.4L543.4 888.8L544.9 889.2L546.3 889.6L547.7 890.1L549.1 890.6L550.6 891.1L552.0 891.6L553.4 892.1L554.8 892.6L556.2 893.2L557.5 893.8L558.9 894.3L560.3 895.0L561.7 895.6L563.0 896.2L564.4 896.9L565.7 897.5L567.0 898.2L568.4 898.9L569.7 899.6L571.0 900.4L572.3 901.1L573.6 901.9L574.9 902.6L576.1 903.4L577.4 904.2L578.7 905.0L579.9 905.9L581.1 906.7L582.4 907.6L583.6 908.4L584.8 909.3L586.0 910.2L587.2 911.1L588.4 912.0L589.6 912.9L590.8 913.9L591.9 914.8L593.1 915.8L594.2 916.7L595.4 917.7L596.5 918.7L597.6 919.7L598.7 920.7L599.8 921.7L600.9 922.7L602.0 923.8L603.1 924.8L604.2 925.9L605.2 926.9L606.3 928.0L607.3 929.1L608.4 930.2L609.4 931.2L610.4 932.3L611.4 933.5L612.4 934.6L613.4 935.7L614.4 936.8L615.4 938.0L616.3 939.1L617.3 940.3L618.2 941.4L619.2 942.6L620.1 943.8L621.0 944.9L621.9 946.1L622.8 947.3L623.7 948.6L624.5 949.8L625.4 951.0L626.2 952.3L627.0 953.5L627.8 954.8L628.6 956.1L629.3 957.4L630.0 958.7L630.7 960.0L631.4 961.4L632.1 962.7L632.7 964.1L633.4 965.4L634.0 966.8L634.6 968.2L635.2 969.5L635.8 970.9L636.4 972.3L637.0 973.7L637.6 975.0L638.2 976.4L638.8 977.8L639.4 979.2L640.0 980.5L640.6 981.9L641.2 983.3L641.8 984.6L642.5 986.0L643.1 987.4L643.7 988.7L644.3 990.1L644.9 991.5L645.6 992.8L646.2 994.2L646.8 995.6L647.4 996.9L648.0 998.3L648.6 999.7L649.2 1001.0L649.8 1002.4L650.4 1003.8L651.1 1005.2L651.7 1006.5L652.3 1007.9L652.9 1009.3L653.5 1010.6L654.1 1012.0L654.7 1013.4L655.3 1014.8L655.9 1016.1L656.5 1017.5L657.2 1018.9L657.8 1020.2L658.4 1021.6L659.0 1022.9L659.7 1024.3L660.3 1025.7L660.9 1027.0L661.5 1028.4L662.1 1029.8L662.7 1031.2L663.3 1032.5L663.9 1033.9L664.5 1035.3L665.0 1036.7L665.6 1038.1L666.2 1039.5L666.7 1040.9L667.3 1042.2L667.9 1043.6L668.5 1045.0L669.1 1046.4L669.7 1047.8L670.3 1049.1L670.9 1050.5L671.5 1051.9L672.1 1053.2L672.8 1054.6L673.4 1055.9L674.1 1057.3L674.8 1058.6L675.5 1059.9L676.2 1061.2L676.9 1062.5L677.7 1063.8L678.5 1065.1L679.2 1066.4L680.1 1067.7L680.9 1068.9L681.8 1070.1L682.6 1071.3L683.6 1072.5L684.5 1073.7L685.5 1074.8L686.6 1075.8L687.7 1076.8L688.9 1077.7L690.1 1078.5L691.4 1079.1L692.8 1079.5L694.2 1079.8L695.7 1079.9L697.1 1079.8L698.6 1079.5L700.0 1079.1L701.3 1078.5L702.6 1077.8L703.8 1077.0L705.0 1076.1L706.0 1075.0L706.9 1073.9L707.8 1072.6L708.6 1071.4L709.3 1070.1L710.0 1068.8L710.7 1067.4L711.3 1066.1L712.0 1064.7L712.5 1063.3L713.1 1061.9L713.6 1060.6L714.2 1059.2L714.7 1057.7L715.2 1056.3L715.7 1054.9L716.3 1053.5L716.8 1052.1L717.3 1050.7L717.8 1049.3L718.4 1047.9L718.9 1046.5L719.5 1045.1L720.0 1043.7L720.6 1042.3L721.1 1040.9L721.7 1039.6L722.2 1038.2L722.8 1036.8L723.3 1035.4L723.9 1034.0L724.4 1032.6L724.9 1031.1L725.4 1029.7L725.9 1028.3L726.4 1026.9L726.9 1025.5L727.4 1024.1L727.9 1022.7L728.4 1021.2L728.9 1019.8L729.3 1018.4L729.8 1017.0L730.3 1015.6L730.8 1014.1L731.3 1012.7L731.7 1011.3L732.2 1009.9L732.7 1008.5L733.2 1007.0L733.7 1005.6L734.2 1004.2L734.6 1002.8L735.1 1001.4L735.6 999.9L736.1 998.5L736.6 997.1L737.1 995.7L737.5 994.3L738.0 992.8L738.5 991.4L739.0 990.0L739.5 988.6L740.0 987.2L740.4 985.7L740.9 984.3L741.4 982.9L741.9 981.5L742.4 980.1L742.8 978.6L743.3 977.2L743.8 975.8L744.3 974.4L744.8 972.9L745.2 971.5L745.7 970.1L746.2 968.7L746.7 967.3L747.2 965.8L747.7 964.4L748.2 963.0L748.7 961.6L749.2 960.2L749.8 958.8L750.3 957.4L750.9 956.0L751.4 954.6L752.0 953.3L752.6 951.9L753.2 950.5L753.8 949.1L754.5 947.8L755.1 946.4L755.8 945.1L756.4 943.7L757.1 942.4L757.8 941.1L758.5 939.8L759.3 938.4L760.0 937.1L760.7 935.8L761.5 934.6L762.3 933.3L763.1 932.0L763.9 930.8L764.7 929.5L765.6 928.3L766.5 927.1L767.3 925.8L768.2 924.7L769.2 923.5L770.1 922.3L771.1 921.2L772.1 920.1L773.1 919.0L774.1 917.9L775.2 916.8L776.2 915.8L777.3 914.7L778.4 913.7L779.6 912.8L780.7 911.8L781.9 910.9L783.1 910.0L784.3 909.1L785.5 908.2L786.7 907.4L788.0 906.6L789.3 905.8L790.5 905.0L791.8 904.3L793.2 903.5L794.5 902.9L795.8 902.2L797.2 901.6L798.5 900.9L799.9 900.3L801.3 899.8L802.7 899.2L804.1 898.7L805.5 898.2L806.9 897.7L808.3 897.2L809.8 896.8L811.2 896.3L812.6 895.9L814.1 895.5L815.5 895.1L817.0 894.6L818.4 894.2L819.9 893.9L821.3 893.5L822.8 893.1L824.2 892.7L825.7 892.4L827.1 892.0L828.6 891.7L830.0 891.4L831.5 891.1L833.0 890.8L834.5 890.5L835.9 890.2L837.4 890.0L838.9 889.7L840.4 889.5L841.9 889.3L843.3 889.0L844.8 888.8L846.3 888.6L847.8 888.4L849.3 888.2L850.8 888.0L852.3 887.9L853.7 887.7L855.2 887.5L856.7 887.4L858.2 887.2L859.7 887.1L861.2 886.9L862.7 886.8L864.2 886.7L865.7 886.6L867.2 886.5L868.7 886.4L870.2 886.3L871.7 886.2L873.2 886.1L874.7 886.0L876.2 885.9L877.7 885.8L879.2 885.7L880.7 885.6L882.2 885.5L883.7 885.4L885.1 885.3L886.6 885.2L888.1 885.1L889.6 884.9L891.1 884.8L892.6 884.7L894.1 884.6L895.6 884.5L897.1 884.3L898.6 884.2L900.1 884.0L901.6 883.9L903.1 883.8L904.6 883.6L906.1 883.5L907.6 883.3L909.1 883.2L910.5 883.0L912.0 882.9L913.5 882.7L915.0 882.6L916.5 882.4L918.0 882.2L919.5 882.1L921.0 881.9L922.5 881.8L924.0 881.6L925.5 881.5L927.0 881.3L928.5 881.2L929.9 881.0L931.4 880.9L932.9 880.7L934.4 880.6L935.9 880.5L937.4 880.3L938.9 880.2L940.4 880.0L941.9 879.9L943.4 879.8L944.9 879.6L946.4 879.5L947.9 879.4L949.4 879.2L950.9 879.1L952.3 879.0L953.8 878.8L955.3 878.7L956.8 878.6L958.3 878.4L959.8 878.3L961.3 878.2L962.8 878.0L964.3 877.9L965.8 877.8L967.3 877.7L968.8 877.5L970.3 877.4L971.8 877.3L973.3 877.1L974.8 877.0L976.3 876.9L977.8 876.8L979.3 876.7L980.7 876.6L982.2 876.5L983.7 876.3L985.2 876.2L986.7 876.1L988.2 876.0L989.7 875.9L991.2 875.8L992.7 875.7L994.2 875.5L995.7 875.4L997.2 875.2L998.7 875.1L1000.2 874.9L1001.7 874.8L1003.2 874.6L1004.6 874.4L1006.1 874.1L1007.6 873.9L1009.1 873.7L1010.6 873.4L1012.0 873.1L1013.5 872.8L1015.0 872.5L1016.4 872.2L1017.9 871.8L1019.4 871.5L1020.8 871.1L1022.3 870.7L1023.7 870.4L1025.2 870.0L1026.6 869.7L1028.1 869.3L1029.6 869.0L1031.0 868.8L1032.5 868.5L1034.0 868.2L1035.5 868.0L1037.0 867.8L1038.4 867.6L1039.9 867.4L1041.4 867.2L1042.9 867.0L1044.4 866.8L1045.9 866.6L1047.4 866.4L1048.9 866.2L1050.3 866.1L1051.8 865.9L1053.3 865.8L1054.8 865.7L1056.3 865.5L1057.8 865.4L1059.3 865.2L1060.8 865.1L1062.3 865.0L1063.8 864.8L1065.3 864.6L1066.8 864.4L1068.2 864.3L1069.7 864.1L1071.2 863.9L1072.7 863.7L1074.2 863.5L1075.7 863.3L1077.2 863.0L1078.6 862.8L1080.1 862.6L1081.6 862.3L1083.1 862.0L1084.6 861.8L1086.0 861.4L1087.5 861.1L1088.9 860.8L1090.4 860.4L1091.9 860.1L1093.3 859.7L1094.8 859.3L1096.2 858.9L1097.7 858.6L1099.1 858.2L1100.6 857.8L1102.0 857.4L1103.5 857.1L1104.9 856.7L1106.4 856.4L1107.8 856.0L1109.3 855.7L1110.8 855.3L1112.2 855.0L1113.7 854.6L1115.1 854.2L1116.6 853.9L1118.1 853.5L1119.5 853.1L1120.9 852.7L1122.4 852.3L1123.8 851.9L1125.3 851.5L1126.7 851.0L1128.1 850.6L1129.6 850.1L1131.0 849.7L1132.4 849.2L1133.8 848.7L1135.3 848.2L1136.7 847.8L1138.1 847.3L1139.5 846.8L1141.0 846.4L1142.4 845.9L1143.8 845.4L1145.2 844.9L1146.6 844.5L1148.1 844.0L1149.5 843.5L1150.9 843.0L1152.3 842.6L1153.8 842.1L1155.2 841.6L1156.6 841.2L1158.0 840.7L1159.5 840.3L1160.9 839.8L1162.3 839.4L1163.8 839.0L1165.2 838.6L1166.7 838.2L1168.1 837.8L1169.6 837.4L1171.0 837.0L1172.4 836.5L1173.8 835.9L1175.2 835.3L1176.5 834.6L1177.8 833.8L1179.0 833.0L1180.3 832.2L1181.6 831.4L1182.9 830.6L1184.2 829.9L1185.5 829.3L1186.9 828.8L1188.3 828.2L1189.8 827.8L1191.2 827.3L1192.6 826.9L1194.1 826.5L1195.5 826.0L1197.0 825.6L1198.4 825.2L1199.9 824.9L1201.3 824.5L1202.8 824.1L1204.2 823.8L1205.7 823.5L1207.1 823.1L1208.6 822.8L1210.1 822.5L1211.5 822.2L1213.0 821.9L1214.5 821.6L1216.0 821.3L1217.4 821.0L1218.9 820.6L1220.3 820.1L1221.7 819.7L1223.1 819.2L1224.5 818.7L1225.9 818.1L1227.3 817.5L1228.7 817.0L1230.1 816.4L1231.5 815.8L1232.8 815.1L1234.2 814.5L1235.6 813.9L1237.0 813.4L1238.3 812.8L1239.7 812.2L1241.1 811.6L1242.5 811.0L1243.9 810.5L1245.3 809.9L1246.6 809.3L1248.0 808.7L1249.4 808.1L1250.8 807.6L1252.2 807.0L1253.6 806.4L1254.9 805.8L1256.3 805.3L1257.7 804.7L1259.1 804.1L1260.5 803.5L1261.9 803.0L1263.3 802.4L1264.7 801.9L1266.1 801.4L1267.5 800.9L1268.9 800.5L1270.4 800.1L1271.9 799.8L1273.3 799.5L1274.8 799.2L1276.3 798.9L1277.7 798.6L1279.2 798.2L1280.6 797.7L1282.0 797.2L1283.3 796.5L1284.6 795.7L1285.7 794.8L1286.8 793.8L1287.8 792.7L1288.9 791.6L1290.0 790.7L1291.3 789.9L1292.6 789.3L1294.0 788.8L1295.5 788.4L1296.9 788.1L1298.4 787.8L1299.9 787.7L1301.4 787.7L1302.9 787.7L1304.4 787.8L1305.9 787.9L1307.4 788.1L1308.9 788.3L1310.3 788.4L1311.8 788.6L1313.3 788.7L1314.8 788.8L1316.3 788.9L1317.8 789.0L1319.3 789.1L1320.8 789.2L1322.3 789.3L1323.8 789.4L1325.3 789.6L1326.8 789.7L1328.3 789.8L1329.8 789.9L1331.3 789.9L1332.8 790.0L1334.3 790.1L1335.8 790.2L1337.3 790.2L1338.8 790.3L1340.3 790.4L1341.8 790.4L1343.3 790.5L1344.8 790.5L1346.3 790.5L1347.8 790.5L1349.3 790.5L1350.8 790.5L1352.3 790.5L1353.8 790.5L1355.3 790.5L1356.8 790.5L1358.3 790.5L1359.8 790.4L1361.3 790.3L1362.7 790.1L1364.2 789.9L1365.6 789.5L1367.0 788.9L1368.4 788.3L1369.7 787.6L1371.0 786.8L1372.3 786.1L1373.6 785.3L1374.9 784.6L1376.3 784.0L1377.6 783.3L1379.0 782.7L1380.4 782.1L1381.7 781.5L1383.1 781.0L1384.6 780.5L1386.0 780.1L1387.5 779.8L1388.9 779.5L1390.4 779.2L1391.9 778.9L1393.4 778.7L1394.8 778.4L1396.3 778.1L1397.8 777.8L1399.2 777.4L1400.6 776.9L1402.0 776.3L1403.4 775.7L1404.7 775.1L1406.1 774.4L1407.4 773.8L1408.8 773.2L1410.2 772.6L1411.6 772.0L1413.0 771.6L1414.4 771.2L1415.9 770.8L1417.3 770.4L1418.8 769.9L1420.2 769.4L1421.5 768.8L1422.9 768.1L1424.2 767.4L1425.4 766.6L1426.7 765.8L1427.9 765.0L1429.2 764.2L1430.6 763.5L1432.0 763.0L1433.4 762.5L1434.8 762.1L1436.3 761.8L1437.7 761.4L1439.2 761.0L1440.6 760.6L1442.0 760.0L1443.3 759.4L1444.6 758.6L1445.8 757.7L1446.9 756.7L1448.0 755.7L1449.1 754.7L1450.3 753.8L1451.6 753.1L1452.9 752.4L1454.3 751.9L1455.8 751.4L1457.2 751.1L1458.7 750.7L1460.1 750.4L1461.6 750.1L1463.1 749.7L1464.5 749.3L1465.9 748.9L1467.4 748.5L1468.8 748.0L1470.2 747.6L1471.7 747.1L1473.1 746.6L1474.5 746.1L1475.9 745.5L1477.2 744.9L1478.5 744.2L1479.8 743.4L1481.1 742.6L1482.3 741.7L1483.5 740.8L1484.6 739.8L1485.7 738.8L1486.9 737.8L1488.0 736.8L1489.1 735.8L1490.2 734.8L1491.4 733.9L1492.5 732.9L1493.7 732.0L1494.9 731.0L1496.0 730.1L1497.2 729.1L1498.3 728.2L1499.5 727.2L1500.6 726.2L1501.6 725.1L1502.7 724.1L1503.8 723.0L1504.8 721.9L1505.8 720.9L1506.8 719.8L1507.8 718.6L1508.8 717.5L1509.8 716.4L1510.8 715.2L1511.7 714.1L1512.6 712.9L1513.6 711.7L1514.5 710.5L1515.4 709.3L1516.2 708.1L1517.1 706.9L1518.0 705.6L1518.8 704.4L1519.7 703.2L1520.5 701.9L1521.4 700.7L1522.2 699.4L1523.0 698.2L1523.8 696.9L1524.6 695.6L1525.4 694.4L1526.2 693.1L1527.0 691.8L1527.8 690.5L1528.6 689.3L1529.3 688.0L1530.1 686.7L1530.9 685.4L1531.6 684.1L1532.4 682.8L1533.1 681.5L1533.9 680.2L1534.6 678.9L1535.4 677.6L1536.1 676.3L1536.9 675.0L1537.7 673.8L1538.5 672.5L1539.2 671.2L1540.0 669.9L1540.8 668.7L1541.7 667.4L1542.5 666.1L1543.3 664.9L1544.2 663.7L1545.0 662.4L1545.9 661.2L1546.8 660.0L1547.7 658.8L1548.7 657.7L1549.7 656.6L1550.7 655.5L1551.7 654.4L1552.8 653.4L1553.9 652.4L1555.1 651.5L1556.4 650.7L1557.7 650.1L1559.1 649.6L1560.5 649.2L1562.0 649.0L1563.5 648.9L1564.9 649.0L1566.4 649.3L1567.8 649.7L1569.1 650.3L1570.4 651.1L1571.6 651.9L1572.7 652.9L1573.7 654.0L1574.6 655.2L1575.5 656.4L1576.3 657.7L1577.1 658.9L1577.8 660.2L1578.5 661.6L1579.2 662.9L1579.8 664.3L1580.3 665.7L1580.9 667.1L1581.5 668.5L1582.1 669.8L1582.7 671.2L1583.3 672.6L1583.9 674.0L1584.5 675.3L1585.1 676.7L1585.7 678.1L1586.3 679.4L1587.0 680.8L1587.6 682.2L1588.2 683.5L1588.8 684.9L1589.4 686.3L1590.1 687.6L1590.7 689.0L1591.3 690.4L1591.9 691.7L1592.5 693.1L1593.2 694.5L1593.8 695.8L1594.4 697.2L1595.0 698.6L1595.6 699.9L1596.3 701.3L1596.9 702.6L1597.5 704.0L1598.2 705.3L1598.9 706.7L1599.5 708.0L1600.2 709.4L1600.9 710.7L1601.6 712.0L1602.3 713.3L1603.1 714.6L1603.8 715.9L1604.6 717.2L1605.3 718.5L1606.1 719.8L1606.9 721.0L1607.8 722.3L1608.7 723.5L1609.6 724.7L1610.5 725.8L1611.5 727.0L1612.5 728.0L1613.6 729.1L1614.7 730.1L1615.9 731.0L1617.1 731.9L1618.4 732.6L1619.7 733.3L1621.1 733.9L1622.5 734.3L1623.9 734.6L1625.4 734.7L1626.8 734.7L1628.3 734.5L1629.7 734.2L1631.1 733.7L1632.5 733.1L1633.8 732.4L1635.0 731.6L1636.2 730.7L1637.3 729.7L1638.4 728.7L1639.3 727.6L1640.2 726.4L1641.0 725.1L1641.8 723.8L1642.5 722.5L1643.2 721.2L1643.9 719.9L1644.6 718.5L1645.3 717.2L1646.0 715.9L1646.6 714.5L1647.3 713.2L1648.0 711.9L1648.7 710.5L1649.4 709.2L1650.0 707.8L1650.7 706.5L1651.3 705.1L1652.0 703.8L1652.6 702.4L1653.2 701.1L1653.9 699.7L1654.5 698.3L1655.1 697.0L1655.7 695.6L1656.3 694.2L1656.8 692.8L1657.4 691.4L1658.0 690.0L1658.5 688.7L1659.1 687.3L1659.6 685.9L1660.2 684.5L1660.7 683.1L1661.2 681.6L1661.7 680.2L1662.2 678.8L1662.7 677.4L1663.2 676.0L1663.7 674.6L1664.2 673.2L1664.7 671.7L1665.1 670.3L1665.6 668.9L1666.0 667.4L1666.5 666.0L1666.9 664.6L1667.3 663.1L1667.8 661.7L1668.2 660.3L1668.6 658.8L1669.0 657.4L1669.4 655.9L1669.8 654.5L1670.2 653.1L1670.6 651.6L1671.0 650.2L1671.5 648.7L1671.9 647.3L1672.3 645.8L1672.7 644.4L1673.1 642.9L1673.5 641.5L1673.9 640.1L1674.3 638.6L1674.7 637.2L1675.1 635.7L1675.5 634.3L1675.9 632.8L1676.4 631.4L1676.8 630.0L1677.2 628.5L1677.6 627.1L1678.0 625.6L1678.4 624.2L1678.8 622.7L1679.2 621.3L1679.6 619.8L1680.0 618.4L1680.4 617.0L1680.8 615.5L1681.2 614.1L1681.6 612.6L1682.0 611.2L1682.4 609.7L1682.7 608.3L1683.1 606.8L1683.5 605.4L1683.9 603.9L1684.3 602.5L1684.6 601.0L1685.0 599.6L1685.4 598.1L1685.7 596.6L1686.1 595.2L1686.5 593.7L1686.8 592.3L1687.2 590.8L1687.6 589.4L1687.9 587.9L1688.3 586.5L1688.6 585.0L1689.0 583.5L1689.4 582.1L1689.7 580.6L1690.1 579.2L1690.4 577.7L1690.8 576.3L1691.1 574.8L1691.5 573.3L1691.8 571.9L1692.2 570.4L1692.5 569.0L1692.9 567.5L1693.2 566.0L1693.5 564.6L1693.9 563.1L1694.2 561.7L1694.6 560.2L1694.9 558.7L1695.2 557.3L1695.6 555.8L1695.9 554.3L1696.2 552.9L1696.6 551.4L1696.9 550.0L1697.2 548.5L1697.5 547.0L1697.9 545.6L1698.2 544.1L1698.5 542.6L1698.8 541.2L1699.2 539.7L1699.5 538.2L1699.8 536.8L1700.2 535.3L1700.5 533.9L1700.8 532.4L1701.1 530.9L1701.5 529.5L1701.8 528.0L1702.1 526.5L1702.4 525.1L1702.7 523.6L1703.1 522.1L1703.4 520.7L1703.7 519.2L1704.0 517.7L1704.3 516.3L1704.7 514.8L1705.0 513.3L1705.3 511.9L1705.6 510.4L1705.9 508.9L1706.3 507.5L1706.6 506.0L1706.9 504.5L1707.2 503.1L1707.5 501.6L1707.8 500.2L1708.2 498.7L1708.5 497.2L1708.8 495.8L1709.1 494.3L1709.4 492.8L1709.8 491.4L1710.1 489.9L1710.4 488.4L1710.7 487.0L1711.1 485.5L1711.4 484.0L1711.7 482.6L1712.0 481.1L1712.4 479.6L1712.7 478.2L1713.0 476.7L1713.4 475.3L1713.7 473.8L1714.0 472.3L1714.4 470.9L1714.7 469.4L1715.0 467.9L1715.3 466.5L1715.7 465.0L1716.0 463.6L1716.3 462.1L1716.7 460.6L1717.0 459.2L1717.3 457.7L1717.7 456.2L1718.0 454.8L1718.3 453.3L1718.7 451.8L1719.0 450.4L1719.3 448.9L1719.7 447.5L1720.0 446.0L1720.3 444.5L1720.7 443.1L1721.0 441.6L1721.3 440.1L1721.7 438.7L1722.0 437.2L1722.3 435.8L1722.6 434.3L1723.0 432.8L1723.3 431.4L1723.6 429.9L1724.0 428.4L1724.3 427.0L1724.6 425.5L1724.9 424.0L1725.3 422.6L1725.6 421.1L1725.9 419.7L1726.3 418.2L1726.6 416.7L1726.9 415.3L1727.3 413.8L1727.6 412.3L1727.9 410.9L1728.3 409.4L1728.6 408.0L1728.9 406.5L1729.3 405.0L1729.6 403.6L1729.9 402.1L1730.3 400.6L1730.6 399.2L1730.9 397.7L1731.3 396.3L1731.6 394.8L1732.0 393.3L1732.3 391.9L1732.6 390.4L1733.0 389.0L1733.3 387.5L1733.6 386.0L1734.0 384.6L1734.3 383.1L1734.6 381.6L1735.0 380.2L1735.3 378.7L1735.7 377.3L1736.0 375.8L1736.3 374.3L1736.7 372.9L1737.0 371.4L1737.4 370.0L1737.7 368.5L1738.0 367.0L1738.4 365.6L1738.7 364.1L1739.1 362.7L1739.4 361.2L1739.7 359.7L1740.1 358.3L1740.4 356.8L1740.8 355.3L1741.1 353.9L1741.4 352.4L1741.8 351.0L1742.1 349.5L1742.5 348.0L1742.8 346.6L1743.1 345.1L1743.5 343.7L1743.8 342.2L1744.1 340.7L1744.4 339.3L1744.8 337.8L1745.1 336.3L1745.4 334.9L1745.8 333.4L1746.1 331.9L1746.4 330.5L1746.7 329.0L1747.0 327.5L1747.4 326.1L1747.7 324.6L1748.0 323.2L1748.3 321.7L1748.7 320.2L1749.0 318.8L1749.3 317.3L1749.6 315.8L1749.9 314.4L1750.2 312.9L1750.6 311.4L1750.9 310.0L1751.2 308.5L1751.5 307.0L1751.8 305.6L1752.1 304.1L1752.5 302.6L1752.8 301.2L1753.1 299.7L1753.4 298.2L1753.7 296.8L1754.0 295.3L1754.3 293.8L1754.6 292.3L1754.9 290.9L1755.2 289.4L1755.5 287.9L1755.8 286.5L1756.1 285.0L1756.4 283.5L1756.7 282.1L1757.0 280.6L1757.3 279.1L1757.6 277.7L1757.9 276.2L1758.2 274.7L1758.5 273.3L1758.9 271.8L1759.2 270.3L1759.5 268.9L1759.8 267.4L1760.1 265.9L1760.5 264.5L1760.8 263.0L1761.1 261.5L1761.4 260.1L1761.8 258.6L1762.1 257.1L1762.4 255.7L1762.8 254.2L1763.1 252.7L1763.4 251.3L1763.7 249.8L1764.1 248.4L1764.4 246.9L1764.8 245.4L1765.1 244.0L1765.5 242.5L1765.8 241.1L1766.2 239.6L1766.6 238.2L1767.0 236.7L1767.3 235.3L1767.7 233.8L1768.2 232.4L1768.6 230.9L1769.0 229.5L1769.4 228.1L1769.9 226.6L1770.3 225.2L1770.8 223.8L1771.3 222.4L1771.7 220.9L1772.2 219.5L1772.7 218.1L1773.2 216.7L1773.7 215.3L1774.2 213.9L1774.8 212.5L1775.3 211.1L1775.9 209.7L1776.5 208.3L1777.2 207.0L1777.8 205.6L1778.5 204.3L1779.3 203.0L1780.0 201.7L1780.7 200.4L1781.5 199.1L1782.4 197.9L1783.3 196.7L1784.3 195.6L1785.4 194.6L1786.6 193.7L1787.8 193.0L1789.1 192.5L1790.4 192.3L1791.8 192.5L1793.0 193.0L1794.3 193.8L1795.4 194.7L1796.4 195.8L1797.3 197.0L1798.1 198.2L1798.9 199.5L1799.6 200.8L1800.2 202.2L1800.8 203.6L1801.4 204.9L1801.9 206.3L1802.4 207.8L1802.9 209.2L1803.3 210.6L1803.7 212.1L1804.0 213.5L1804.3 215.0L1804.7 216.5L1805.0 217.9L1805.3 219.4L1805.6 220.9L1805.9 222.3L1806.3 223.8L1806.6 225.3L1806.9 226.7L1807.2 228.2L1807.5 229.7L1807.8 231.1L1808.1 232.6L1808.3 234.1L1808.6 235.6L1808.9 237.0L1809.1 238.5L1809.4 240.0L1809.7 241.5L1809.9 242.9L1810.2 244.4L1810.4 245.9L1810.7 247.4L1810.9 248.9L1811.2 250.3L1811.4 251.8L1811.6 253.3L1811.9 254.8L1812.1 256.3L1812.3 257.7L1812.6 259.2L1812.8 260.7L1813.0 262.2L1813.2 263.7L1813.4 265.2L1813.7 266.7L1813.9 268.1L1814.1 269.6L1814.3 271.1L1814.5 272.6L1814.7 274.1L1814.9 275.6L1815.1 277.1L1815.3 278.5L1815.5 280.0L1815.7 281.5L1815.9 283.0L1816.1 284.5L1816.3 286.0L1816.5 287.5L1816.7 288.9L1816.8 290.4L1817.0 291.9L1817.2 293.4L1817.4 294.9L1817.6 296.4L1817.8 297.9L1818.0 299.4L1818.1 300.9L1818.3 302.3L1818.5 303.8L1818.7 305.3L1818.8 306.8L1819.0 308.3L1819.2 309.8L1819.4 311.3L1819.5 312.8L1819.7 314.3L1819.9 315.8L1820.0 317.2L1820.2 318.7L1820.4 320.2L1820.5 321.7L1820.7 323.2L1820.9 324.7L1821.1 326.2L1821.2 327.7L1821.4 329.2L1821.6 330.7L1821.7 332.2L1821.9 333.6L1822.1 335.1L1822.2 336.6L1822.4 338.1L1822.6 339.6L1822.7 341.1L1822.9 342.6L1823.1 344.1L1823.3 345.6L1823.4 347.1L1823.6 348.5L1823.8 350.0L1823.9 351.5L1824.1 353.0L1824.3 354.5L1824.4 356.0L1824.6 357.5L1824.7 359.0L1824.9 360.5L1825.1 362.0L1825.2 363.5L1825.4 364.9L1825.5 366.4L1825.7 367.9L1825.8 369.4L1826.0 370.9L1826.1 372.4L1826.2 373.9L1826.4 375.4L1826.5 376.9L1826.6 378.4L1826.8 379.9L1826.9 381.4L1827.0 382.9L1827.1 384.4L1827.2 385.9L1827.3 387.4L1827.4 388.9L1827.5 390.4L1827.6 391.9L1827.7 393.4L1827.8 394.8L1827.9 396.3L1828.0 397.8L1828.1 399.3L1828.1 400.8L1828.2 402.3L1828.3 403.8L1828.4 405.3L1828.5 406.8L1828.5 408.3L1828.6 409.8L1828.7 411.3L1828.8 412.8L1828.8 414.3L1828.9 415.8L1829.0 417.3L1829.1 418.8L1829.1 420.3L1829.2 421.8L1829.3 423.3L1829.4 424.8L1829.5 426.3L1829.6 427.8L1829.7 429.3L1829.8 430.8L1829.9 432.3L1830.0 433.8L1830.1 435.3L1830.2 436.8L1830.3 438.3L1830.4 439.8L1830.5 441.3L1830.6 442.8L1830.8 444.3L1830.9 445.7L1831.0 447.2L1831.2 448.7L1831.3 450.2L1831.4 451.7L1831.5 453.2L1831.7 454.7L1831.8 456.2L1831.9 457.7L1832.1 459.2L1832.2 460.7L1832.4 462.2L1832.5 463.7L1832.6 465.2L1832.7 466.7L1832.9 468.2L1833.0 469.7L1833.1 471.2L1833.3 472.6L1833.4 474.1L1833.5 475.6L1833.7 477.1L1833.8 478.6L1833.9 480.1L1834.0 481.6L1834.2 483.1L1834.3 484.6L1834.4 486.1L1834.5 487.6L1834.7 489.1L1834.8 490.6L1834.9 492.1L1835.0 493.6L1835.2 495.1L1835.3 496.6L1835.4 498.1L1835.5 499.5L1835.7 501.0L1835.8 502.5L1835.9 504.0L1836.1 505.5L1836.2 507.0L1836.3 508.5L1836.4 510.0L1836.6 511.5L1836.7 513.0L1836.8 514.5L1837.0 516.0L1837.1 517.5L1837.2 519.0L1837.4 520.5L1837.5 522.0L1837.6 523.5L1837.8 525.0L1837.9 526.4L1838.0 527.9L1838.2 529.4L1838.3 530.9L1838.4 532.4L1838.6 533.9L1838.7 535.4L1838.8 536.9L1839.0 538.4L1839.1 539.9L1839.3 541.4L1839.4 542.9L1839.5 544.4L1839.7 545.9L1839.8 547.4L1840.0 548.9L1840.1 550.3L1840.3 551.8L1840.4 553.3L1840.5 554.8L1840.7 556.3L1840.8 557.8L1841.0 559.3L1841.1 560.8L1841.3 562.3L1841.4 563.8L1841.6 565.3L1841.7 566.8L1841.9 568.3L1842.0 569.7L1842.2 571.2L1842.3 572.7L1842.5 574.2L1842.7 575.7L1842.8 577.2L1843.0 578.7L1843.2 580.2L1843.3 581.7L1843.5 583.2L1843.7 584.7L1843.8 586.2L1844.0 587.6L1844.2 589.1L1844.3 590.6L1844.5 592.1L1844.7 593.6L1844.9 595.1L1845.1 596.6L1845.2 598.1L1845.4 599.6L1845.6 601.0L1845.8 602.5L1846.0 604.0L1846.2 605.5L1846.4 607.0L1846.6 608.5L1846.7 610.0L1846.9 611.5L1847.1 612.9L1847.3 614.4L1847.5 615.9L1847.7 617.4L1847.9 618.9L1848.1 620.4L1848.4 621.9L1848.6 623.3L1848.8 624.8L1849.0 626.3L1849.2 627.8L1849.4 629.3L1849.6 630.8L1849.8 632.3L1850.0 633.7L1850.3 635.2L1850.5 636.7L1850.7 638.2L1850.9 639.7L1851.2 641.2L1851.4 642.6L1851.6 644.1L1851.8 645.6L1852.1 647.1L1852.3 648.6L1852.5 650.1L1852.8 651.5L1853.0 653.0L1853.3 654.5L1853.5 656.0L1853.8 657.5L1854.0 658.9L1854.2 660.4L1854.5 661.9L1854.7 663.4L1855.0 664.9L1855.2 666.3L1855.5 667.8L1855.7 669.3L1856.0 670.8L1856.3 672.2L1856.5 673.7L1856.8 675.2L1857.0 676.7L1857.3 678.2L1857.6 679.6L1857.9 681.1L1858.1 682.6L1858.4 684.0L1858.7 685.5L1859.0 687.0L1859.3 688.5L1859.6 689.9L1859.9 691.4L1860.2 692.9L1860.5 694.3L1860.8 695.8L1861.2 697.3L1861.5 698.7L1861.8 700.2L1862.1 701.7L1862.5 703.1L1862.8 704.6L1863.2 706.0L1863.5 707.5L1863.9 709.0L1864.2 710.4L1864.6 711.9L1864.9 713.3L1865.3 714.8L1865.7 716.2L1866.1 717.7L1866.5 719.1L1866.9 720.6L1867.3 722.0L1867.7 723.5L1868.1 724.9L1868.5 726.4L1868.9 727.8L1869.3 729.2L1869.7 730.7L1870.2 732.1L1870.6 733.5L1871.0 735.0L1871.5 736.4L1872.0 737.8L1872.4 739.3L1872.9 740.7L1873.4 742.1L1873.9 743.5L1874.4 744.9L1874.9 746.3L1875.5 747.7L1876.0 749.1L1876.5 750.5L1877.1 751.9L1877.7 753.3L1878.2 754.7L1878.8 756.1L1879.5 757.4L1880.1 758.8L1880.7 760.1L1881.4 761.5L1882.1 762.8L1882.8 764.1L1883.5 765.5L1884.2 766.8L1885.0 768.0L1885.8 769.3L1886.6 770.6L1887.4 771.8L1888.3 773.0L1889.2 774.2L1890.2 775.3L1891.2 776.4L1892.2 777.5L1893.2 778.6L1894.3 779.6L1895.4 780.6L1896.5 781.6L1897.7 782.6L1898.8 783.5L1900.1 784.3L1901.3 785.2L1902.5 786.0L1903.8 786.8L1905.1 787.5L1906.4 788.2L1907.7 788.9L1909.1 789.6L1910.4 790.2L1911.8 790.8L1913.2 791.4L1914.6 791.9L1916.0 792.5L1917.4 793.0L1918.8 793.4L1920.2 793.9L1921.7 794.3L1923.1 794.7L1924.6 795.1L1926.0 795.5L1927.5 795.8L1928.9 796.1L1930.4 796.4L1931.9 796.7L1933.3 797.0L1934.8 797.2L1936.3 797.4L1937.8 797.6L1939.3 797.8L1940.8 798.0L1942.3 798.1L1943.8 798.2L1945.3 798.4L1946.7 798.5L1948.2 798.6L1949.7 798.7L1951.2 798.8L1952.7 798.8L1954.2 798.9L1955.7 799.0L1957.2 799.1L1958.7 799.2L1960.2 799.2L1961.7 799.3L1963.2 799.4L1964.7 799.4L1966.2 799.5L1967.7 799.5L1969.2 799.6L1970.7 799.6L1972.2 799.7L1973.7 799.7L1975.2 799.7L1976.7 799.8L1978.2 799.8L1979.7 799.8L1981.2 799.9L1982.7 799.9L1984.2 799.9L1985.7 800.0L1987.2 800.0L1988.7 800.0L1990.2 800.1L1991.7 800.1L1993.2 800.1L1994.7 800.1L1996.2 800.1L1997.7 800.2L1999.2 800.2L2000.7 800.2L2002.2 800.2L2003.7 800.2L2005.2 800.2L2006.7 800.2L2008.2 800.2L2009.7 800.2L2011.2 800.2L2012.7 800.2L2014.2 800.2L2015.7 800.3L2017.2 800.3L2018.7 800.3L2020.2 800.3L2021.7 800.3L2023.2 800.3L2024.7 800.3L2026.2 800.3L2027.7 800.3L2029.2 800.3L2030.7 800.3L2032.2 800.3L2033.7 800.3L2035.2 800.3L2036.7 800.3L2038.2 800.3L2039.7 800.4L2041.2 800.4L2042.7 800.4L2044.2 800.4L2045.7 800.4L2047.2 800.4L2048.7 800.4L2050.2 800.4L2051.7 800.4L2053.2 800.4L2054.7 800.4L2056.2 800.4L2057.7 800.4L2059.2 800.4L2060.7 800.4L2062.2 800.4L2063.7 800.4L2065.2 800.4L2066.7 800.4L2068.2 800.4L2069.7 800.4L2071.2 800.4L2072.7 800.4L2074.2 800.4L2075.7 800.4L2077.2 800.4L2078.7 800.4L2080.2 800.4L2081.7 800.4L2083.2 800.4L2084.7 800.4L2086.2 800.4L2087.7 800.4L2089.2 800.4L2090.7 800.4L2092.2 800.4L2093.7 800.4L2095.2 800.4L2096.7 800.4L2098.2 800.4L2099.7 800.4L2101.2 800.4L2102.7 800.4L2104.2 800.4L2105.7 800.4L2107.2 800.4L2108.7 800.4L2110.2 800.4L2111.7 800.4L2113.2 800.4L2114.7 800.3L2116.2 800.3L2117.7 800.3L2119.2 800.3L2120.7 800.3L2122.2 800.3L2123.7 800.3L2125.2 800.3L2126.7 800.3L2128.2 800.3L2129.7 800.3L2131.2 800.2L2132.7 800.2L2134.2 800.2L2135.7 800.2L2137.2 800.2L2138.7 800.2L2140.2 800.2L2141.7 800.2L2143.2 800.1L2144.7 800.1L2146.2 800.1L2147.7 800.1L2149.2 800.1L2150.7 800.1L2152.2 800.1L2153.7 800.0L2155.2 800.0L2156.7 800.0L2158.2 800.0L2159.7 800.0L2161.2 800.0L2162.7 799.9L2164.2 799.9L2165.7 799.9L2167.2 799.9L2168.7 799.9L2170.2 799.8L2171.7 799.8L2173.2 799.8L2174.7 799.8L2176.2 799.8L2177.7 799.7L2179.2 799.7L2180.7 799.7L2182.2 799.7L2183.7 799.6L2185.2 799.6L2186.7 799.6L2188.2 799.6L2189.7 799.5L2191.2 799.5L2192.7 799.5L2194.2 799.5L2195.7 799.4L2197.2 799.4L2198.7 799.4L2200.2 799.4L2201.7 799.3L2203.2 799.3L2204.7 799.3L2206.2 799.2L2207.7 799.2L2209.2 799.2L2210.7 799.1L2212.2 799.1L2213.7 799.1L2215.2 799.1L2216.7 799.0L2218.2 799.0L2219.7 799.0L2221.2 798.9L2222.7 798.9L2224.2 798.8L2225.7 798.8" stroke="#ff0000"/>
</g>
<path d="M227.61 1667.60V1651.60M227.61 27.00V43.00M344.84 1667.60V1635.60M344.84 27.00V59.00M462.07 1667.60V1651.60M462.07 27.00V43.00M579.30 1667.60V1635.60M579.30 27.00V59.00M696.53 1667.60V1651.60M696.53 27.00V43.00M813.76 1667.60V1635.60M813.76 27.00V59.00M930.99 1667.60V1651.60M930.99 27.00V43.00M1048.21 1667.60V1635.60M1048.21 27.00V59.00M1165.44 1667.60V1651.60M1165.44 27.00V43.00M1282.67 1667.60V1635.60M1282.67 27.00V59.00M1399.90 1667.60V1651.60M1399.90 27.00V43.00M1517.13 1667.60V1635.60M1517.13 27.00V59.00M1634.36 1667.60V1651.60M1634.36 27.00V43.00M1751.59 1667.60V1635.60M1751.59 27.00V59.00M1868.81 1667.60V1651.60M1868.81 27.00V43.00M1986.04 1667.60V1635.60M1986.04 27.00V59.00M2103.27 1667.60V1651.60M2103.27 27.00V43.00M169.00 140.50H201.00M2220.50 140.50H2188.50M169.00 253.60H201.00M2220.50 253.60H2188.50M169.00 366.69H201.00M2220.50 366.69H2188.50M169.00 479.79H201.00M2220.50 479.79H2188.50M169.00 592.88H201.00M2220.50 592.88H2188.50M169.00 705.98H201.00M2220.50 705.98H2188.50M169.00 819.08H201.00M2220.50 819.08H2188.50M169.00 932.17H201.00M2220.50 932.17H2188.50M169.00 1045.27H201.00M2220.50 1045.27H2188.50M169.00 1158.36H201.00M2220.50 1158.36H2188.50M169.00 1271.46H201.00M2220.50 1271.46H2188.50M169.00 1384.56H201.00M2220.50 1384.56H2188.50M169.00 1497.65H201.00M2220.50 1497.65H2188.50M169.00 1610.75H201.00M2220.50 1610.75H2188.50M169.00 83.95H185.00M2220.50 83.95H2204.50M169.00 197.05H185.00M2220.50 197.05H2204.50M169.00 310.14H185.00M2220.50 310.14H2204.50M169.00 423.24H185.00M2220.50 423.24H2204.50M169.00 536.34H185.00M2220.50 536.34H2204.50M169.00 649.43H185.00M2220.50 649.43H2204.50M169.00 762.53H185.00M2220.50 762.53H2204.50M169.00 875.62H185.00M2220.50 875.62H2204.50M169.00 988.72H185.00M2220.50 988.72H2204.50M169.00 1101.82H185.00M2220.50 1101.82H2204.50M169.00 1214.91H185.00M2220.50 1214.91H2204.50M169.00 1328.01H185.00M2220.50 1328.01H2204.50M169.00 1441.10H185.00M2220.50 1441.10H2204.50M169.00 1554.20H185.00M2220.50 1554.20H2204.50" stroke="#000" stroke-width="8.0" fill="none"/>
<rect x="169.0" y="27.0" width="2051.5" height="1640.6" fill="none" stroke="#000" stroke-width="8.0"/>
<text transform="translate(344.84 1757.20) scale(1 1.0250)" font-size="70.30" text-anchor="middle">20</text>
<text transform="translate(579.30 1757.20) scale(1 1.0250)" font-size="70.30" text-anchor="middle">40</text>
<text transform="translate(813.76 1757.20) scale(1 1.0250)" font-size="70.30" text-anchor="middle">60</text>
<text transform="translate(1048.21 1757.20) scale(1 1.0250)" font-size="70.30" text-anchor="middle">80</text>
<text transform="translate(1282.67 1757.20) scale(1 1.0250)" font-size="70.30" text-anchor="middle">100</text>
<text transform="translate(1517.13 1757.20) scale(1 1.0250)" font-size="70.30" text-anchor="middle">120</text>
<text transform="translate(1751.59 1757.20) scale(1 1.0250)" font-size="70.30" text-anchor="middle">140</text>
<text transform="translate(1986.04 1757.20) scale(1 1.0250)" font-size="70.30" text-anchor="middle">160</text>
<text transform="translate(2220.50 1757.20) scale(1 1.0250)" font-size="70.30" text-anchor="middle">180</text>
<text transform="translate(1118.90 1843.90) scale(1 1.0200)" font-size="86.50">T (ºC)</text>
<text transform="translate(81.00 1420.10) rotate(-90) scale(1 1.0200)" font-size="85.50">Heat Flow Endo Up (W/g)</text>
<text transform="translate(129.20 1685.30) rotate(-90) scale(1 1.0200)" font-size="54.80">0.1 W/g</text>
<line x1="146.8" y1="1553.2" x2="146.8" y2="1609.8" stroke="#000" stroke-width="3.8"/>
<text transform="translate(203.50 119.20) scale(1 1.0200)" font-size="70.00">PHBH Filament</text>
<text transform="translate(209.75 182.60) scale(1 1.0200)" font-size="54.80">rate: 20°C/min</text>
<text transform="translate(246.85 856.20) scale(1 1.0200)" font-size="54.80">II heating</text>
<text transform="translate(246.70 1158.50) scale(1 1.0200)" font-size="54.80">cooling</text>
<text class="it" transform="translate(2000.00 181.20) scale(1 1.035)" font-size="85.5">T<tspan font-size="59" x="50.0" dy="22.90">mII</tspan></text>
<text class="it" transform="translate(1319.00 518.90) scale(1 1.035)" font-size="85.5">T<tspan font-size="59" x="50.0" dy="22.90">mI</tspan></text>
<text class="it" transform="translate(908.00 1152.50) scale(1 1.035)" font-size="85.5">T<tspan font-size="59" x="50.0" dy="22.90">cc</tspan></text>
<text class="it" transform="translate(912.00 1588.90) scale(1 1.035)" font-size="85.5">T<tspan font-size="59" x="50.0" dy="22.90">c</tspan></text>
<line x1="1814.1" y1="192.4" x2="1946.6" y2="166.0" stroke="#000" stroke-width="2.10"/><polygon points="1985.3,158.3 1946.7,176.9 1942.5,156.0" fill="#000"/>
<line x1="1554.2" y1="641.2" x2="1476.0" y2="555.3" stroke="#000" stroke-width="2.10"/><polygon points="1449.4,526.1 1485.2,549.6 1469.5,564.0" fill="#000"/>
<line x1="730.3" y1="1071.1" x2="855.8" y2="1112.9" stroke="#000" stroke-width="2.10"/><polygon points="893.3,1125.4 850.6,1122.4 857.3,1102.2" fill="#000"/>
<line x1="738.0" y1="1482.4" x2="863.3" y2="1523.9" stroke="#000" stroke-width="2.10"/><polygon points="900.8,1536.3 858.1,1533.4 864.8,1513.1" fill="#000"/>
</svg>
</body></html>
